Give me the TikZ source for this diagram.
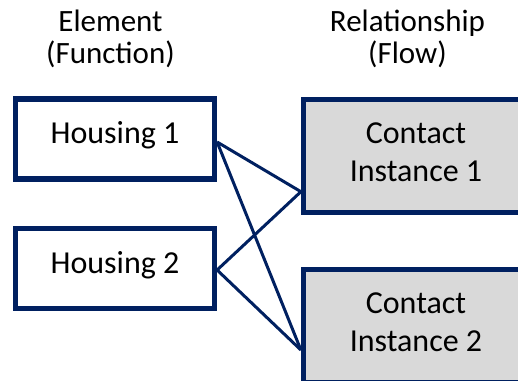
\documentclass[tikz,border=0pt]{standalone}
\usepackage{fontspec}
\setmainfont{Carlito}
\usetikzlibrary{calc}
\definecolor{navy}{HTML}{002060}
\definecolor{boxgray}{HTML}{D9D9D9}
\begin{document}
\begin{tikzpicture}[x=0.75pt,y=-0.75pt,
  elembox/.style={draw=navy, line width=3.9pt, fill=white,
    minimum width=149.25pt, minimum height=60pt, inner sep=0pt},
  relbox/.style={draw=navy, line width=3.9pt, fill=boxgray,
    minimum width=168.75pt, minimum height=85pt, inner sep=0pt},
  link/.style={draw=navy, line width=2.25pt},
  lbl/.style={font=\fontsize{24pt}{28.5pt}\selectfont, align=center,
    anchor=base, inner sep=0pt},
  head/.style={font=\fontsize{23.25pt}{23.7pt}\selectfont, align=center,
    anchor=base, inner sep=0pt}]
  \clip (0,0) rectangle (518,381);

  % column headings (anchored on the baseline of their last line)
  \node[head] (elemhead) at (110.5,63.3) {Element\\(Function)};
  \node[head] (relhead) at (407.5,63.3) {Relationship\\(Flow)};

  % element boxes
  \node[elembox] (h1) at (115,139) {};
  \node[elembox] (h2) at (115,268.7) {};
  % relationship boxes
  \node[relbox] (c1) at (416,155.9) {};
  \node[relbox] (c2) at (416,325.9) {};

  % box labels
  \node[lbl] (h1text) at ($(h1.center)+(0,5)$) {Housing 1};
  \node[lbl] (h2text) at ($(h2.center)+(0,4.6)$) {Housing 2};
  \node[lbl] (c1text) at ($(c1.center)+(0,25.8)$) {Contact\\Instance 1};
  \node[lbl] (c2text) at ($(c2.center)+(0,25.8)$) {Contact\\Instance 2};

  % attachment points
  \coordinate (h1out) at ($(h1.east)+(0,3)$);
  \coordinate (h2out) at ($(h2.east)+(0,1.3)$);
  \coordinate (c1in) at ($(c1.west)+(0,35.8)$);
  \coordinate (c2in) at ($(c2.west)+(0,24.1)$);

  % links
  \draw[link] (h1out) -- (c1in);
  \draw[link] (h1out) -- (c2in);
  \draw[link] (h2out) -- (c1in);
  \draw[link] (h2out) -- (c2in);
\end{tikzpicture}
\end{document}
